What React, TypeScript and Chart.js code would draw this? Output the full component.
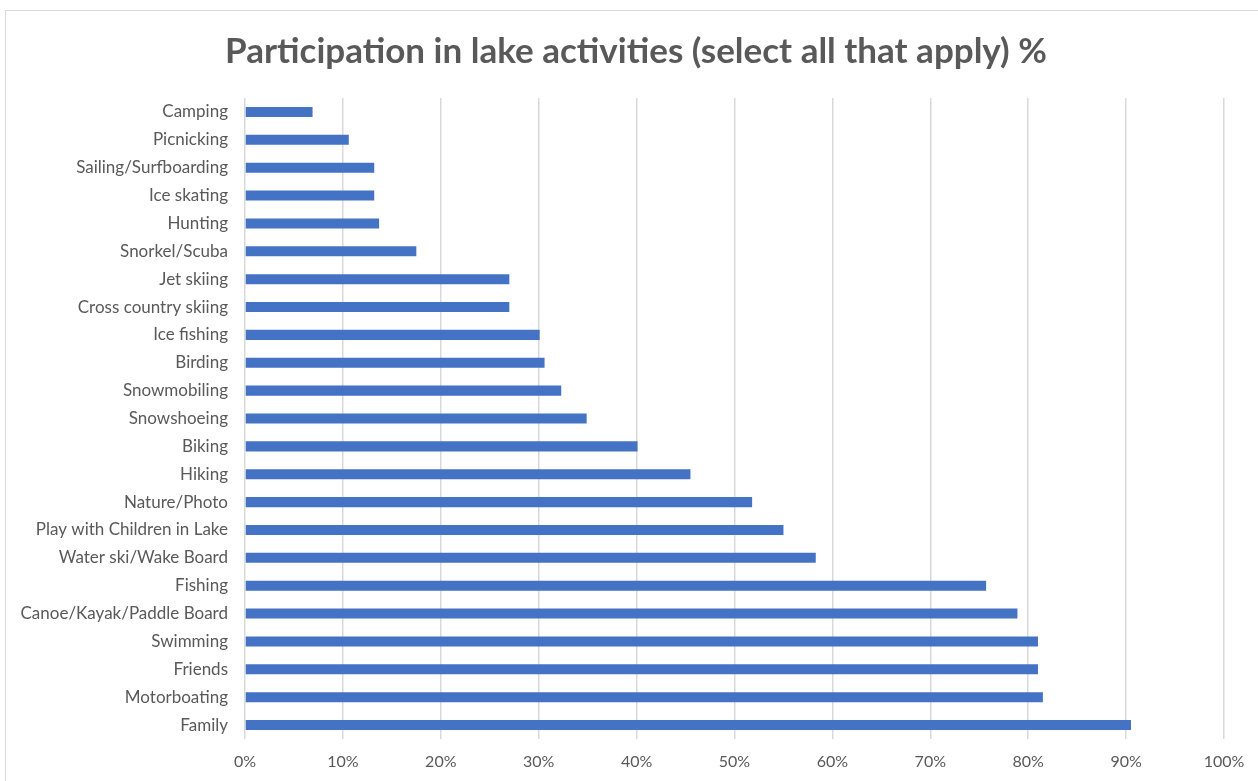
import React, { useEffect, useRef } from "react";
import { Chart, registerables } from "chart.js";

Chart.register(...registerables);

const categories = [
  "Camping",
  "Picnicking",
  "Sailing/Surfboarding",
  "Ice skating",
  "Hunting",
  "Snorkel/Scuba",
  "Jet skiing",
  "Cross country skiing",
  "Ice fishing",
  "Birding",
  "Snowmobiling",
  "Snowshoeing",
  "Biking",
  "Hiking",
  "Nature/Photo",
  "Play with Children in Lake",
  "Water ski/Wake Board",
  "Fishing",
  "Canoe/Kayak/Paddle Board",
  "Swimming",
  "Friends",
  "Motorboating",
  "Family",
];

const participation = [
  6.9, 10.6, 13.2, 13.2, 13.7, 17.5, 27.0, 27.0, 30.1, 30.6, 32.3, 34.9, 40.1,
  45.5, 51.8, 55.0, 58.3, 75.7, 78.9, 81.0, 81.0, 81.5, 90.5,
];

const xTicks = [0, 10, 20, 30, 40, 50, 60, 70, 80, 90, 100];

const titleText = "Participation in lake activities (select all that apply) %";

const W = 1258;
const H = 781;

const titlePlugin = {
  id: "centeredTitle",
  afterDraw(chart: any) {
    const ctx = chart.ctx;
    ctx.save();
    ctx.fillStyle = "#595959";
    ctx.font = "bold 35px Lato";
    ctx.textAlign = "center";
    ctx.textBaseline = "alphabetic";
    ctx.fillText(titleText, 636, 63);
    ctx.restore();
  },
};

export default function App() {
  const ref = useRef<HTMLCanvasElement | null>(null);

  useEffect(() => {
    const canvas = ref.current;
    if (!canvas) return;
    const chart = new Chart(canvas, {
      type: "bar",
      data: {
        labels: categories,
        datasets: [
          {
            label: "Participation",
            data: participation,
            backgroundColor: "#4472C4",
            borderWidth: 0,
            barPercentage: 0.72,
            categoryPercentage: 0.5,
          },
        ],
      },
      plugins: [titlePlugin],
      options: {
        indexAxis: "y",
        responsive: false,
        animation: false,
        layout: { padding: { left: 0, right: 34, top: 98, bottom: 0 } },
        plugins: {
          legend: { display: false },
          tooltip: { enabled: false },
          title: { display: false },
        },
        scales: {
          x: {
            min: 0,
            max: 100,
            afterBuildTicks: (scale: any) => {
              scale.ticks = xTicks.map((v) => ({ value: v }));
            },
            afterFit: (scale: any) => {
              scale.height = 42;
            },
            grid: {
              color: "#d9d9d9",
              lineWidth: 1.5,
              drawTicks: false,
            },
            border: { display: false },
            ticks: {
              color: "#595959",
              font: { family: "Lato", size: 16 },
              padding: 13,
              callback: (v: any) => `${v}%`,
            },
          },
          y: {
            afterFit: (scale: any) => {
              scale.width = 245;
            },
            grid: { display: false, drawTicks: false },
            border: { display: false },
            ticks: {
              color: "#595959",
              font: { family: "Lato", size: 17 },
              padding: 17,
              autoSkip: false,
            },
          },
        },
      },
    });
    return () => chart.destroy();
  }, []);

  return (
    <div
      style={{
        position: "fixed",
        left: 0,
        top: 0,
        width: W,
        height: H,
        overflow: "hidden",
        background: "#ffffff",
      }}
    >
      <div
        style={{
          position: "absolute",
          left: 5,
          top: 10,
          width: 1400,
          height: 900,
          border: "1.5px solid #d9d9d9",
          boxSizing: "border-box",
        }}
      />
      <canvas
        ref={ref}
        width={W}
        height={H}
        style={{ position: "absolute", left: 0, top: 0, width: W, height: H }}
      />
    </div>
  );
}
